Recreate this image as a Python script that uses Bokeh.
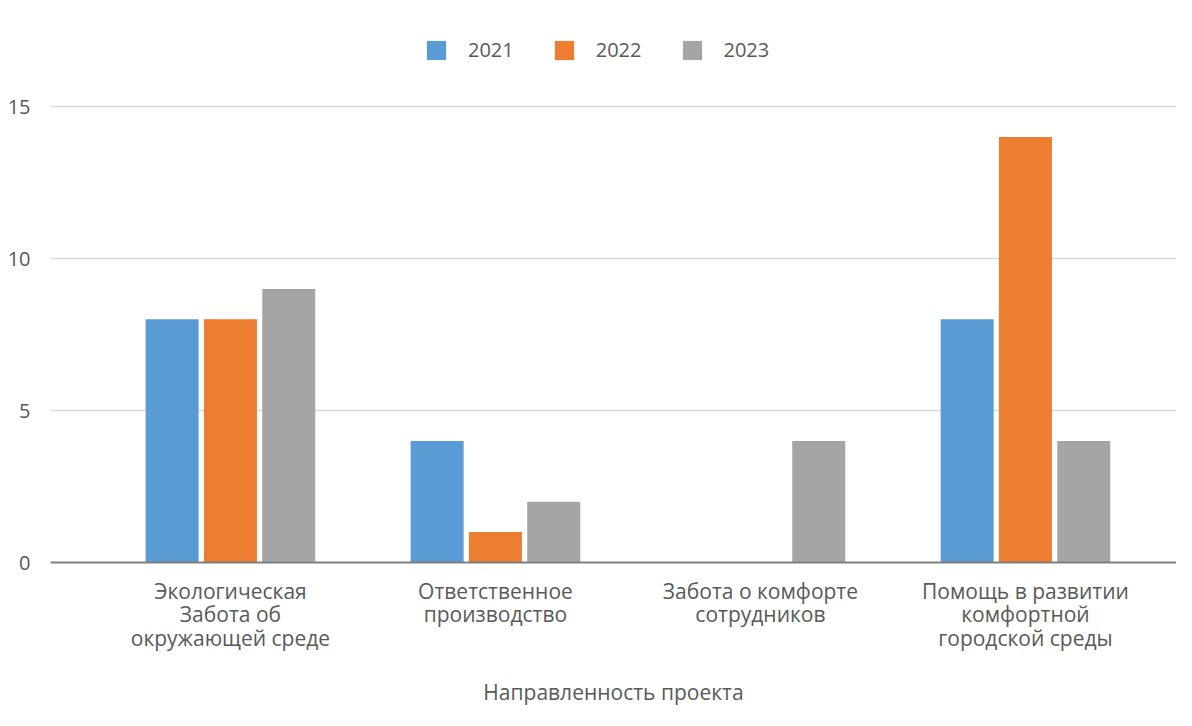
from bokeh.plotting import figure
from bokeh.models import ColumnDataSource, FixedTicker, Legend, LegendItem
from bokeh.embed import file_html
from bokeh.resources import INLINE

categories = [
    "Экологическая\nЗабота об\nокружающей среде",
    "Ответственное\nпроизводство",
    "Забота о комфорте\nсотрудников",
    "Помощь в развитии\nкомфортной\nгородской среды",
]
years = ["2021", "2022", "2023"]
values_2021 = [8, 4, 0, 8]
values_2022 = [8, 1, 0, 14]
values_2023 = [9, 2, 4, 4]
y_ticks = [0, 5, 10, 15]

colors = ["#5B9BD5", "#ED7D31", "#A5A5A5"]
offsets = [-0.22, 0.0, 0.22]
series = [values_2021, values_2022, values_2023]

FONT = "Open Sans"
TXT = "#595959"
FS = "21px"

p = figure(width=1176, height=710, output_backend="svg", toolbar_location=None,
           x_range=(-0.679, 3.57), y_range=(0, 17.83))
p.min_border_left = 50
p.min_border_right = 0
p.min_border_top = 20
p.min_border_bottom = 148
p.outline_line_color = None

renderers = []
idx = list(range(len(categories)))
for yr, vals, col, off in zip(years, series, colors, offsets):
    src = ColumnDataSource(dict(x=[i + off for i in idx], top=vals))
    r = p.vbar(x="x", top="top", bottom=0, width=0.2, source=src,
               fill_color=col, line_color=None)
    renderers.append((yr, r))

legend = Legend(items=[LegendItem(label=yr, renderers=[r]) for yr, r in renderers],
                orientation="horizontal", location=(374, 499),
                glyph_width=24, glyph_height=24, label_standoff=20, spacing=38,
                label_text_font=FONT, label_text_font_size="20px",
                label_text_color=TXT, border_line_color=None,
                background_fill_alpha=0, margin=0, padding=0)
p.add_layout(legend, "center")

# x axis
xa = p.xaxis[0]
xa.ticker = FixedTicker(ticks=idx)
xa.major_label_overrides = {i: c for i, c in zip(idx, categories)}
xa.major_tick_line_color = None
xa.minor_tick_line_color = None
xa.axis_line_color = "#7f7f7f"
xa.axis_line_width = 2
xa.major_label_text_font = FONT
xa.major_label_text_font_size = FS
xa.major_label_text_line_height = 0.85
xa.major_label_text_color = TXT
xa.major_label_standoff = 8
xa.axis_label = "Направленность проекта"
xa.axis_label_text_font = FONT
xa.axis_label_text_font_size = FS
xa.axis_label_text_font_style = "normal"
xa.axis_label_text_color = TXT
xa.axis_label_standoff = 23

# y axis
ya = p.yaxis[0]
ya.ticker = FixedTicker(ticks=y_ticks)
ya.axis_line_color = None
ya.major_tick_line_color = None
ya.minor_tick_line_color = None
ya.major_label_text_font = FONT
ya.major_label_text_font_size = "20px"
ya.major_label_text_color = TXT
ya.major_label_standoff = 14

p.xgrid.grid_line_color = None
p.ygrid.grid_line_color = "#d9d9d9"
p.ygrid.grid_line_width = 1.5

open("out.html", "w").write(file_html(p, INLINE))
